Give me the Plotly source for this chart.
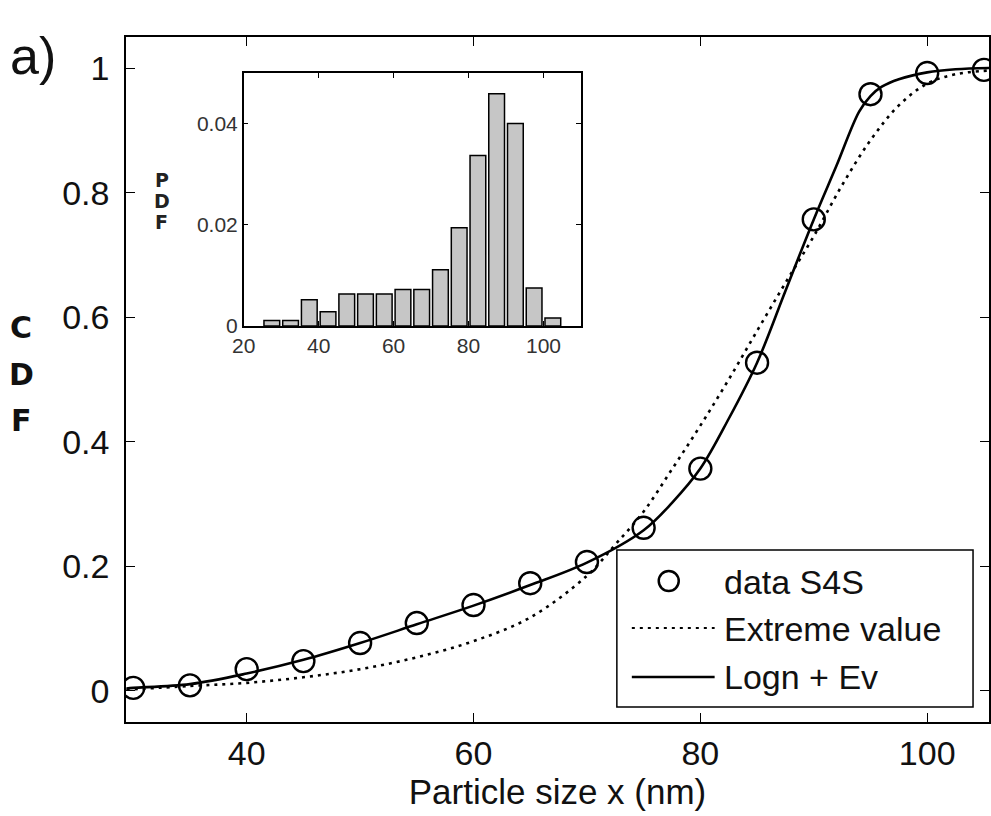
import plotly.graph_objects as go

# ---------------- data ----------------
sizes = [30, 35, 40, 45, 50, 55, 60, 65, 70, 75, 80, 85, 90, 95, 100, 105]
cdf_data = [0.005, 0.009, 0.035, 0.048, 0.077, 0.109, 0.138, 0.173, 0.207,
            0.262, 0.357, 0.527, 0.757, 0.958, 0.992, 0.997]

fit_x = [29.4, 30, 35, 40, 45, 50, 55, 60, 65, 70, 75, 77.5, 80, 82.5, 85,
         87.5, 90, 92, 94, 95, 96, 97.5, 100, 102.5, 105.45]
fit_cdf = [0.004, 0.005, 0.011, 0.028, 0.05, 0.077, 0.107, 0.137, 0.17, 0.206,
           0.258, 0.302, 0.357, 0.437, 0.527, 0.642, 0.757, 0.843, 0.93, 0.955,
           0.97, 0.982, 0.993, 0.998, 1.0]

ev_x = [29.4, 35, 40, 45, 50, 55, 60, 65, 70, 72.5, 75, 77.5, 80, 82.5, 85,
        87.5, 90, 92.5, 95, 97.5, 100, 102.5, 105.45]
ev_cdf = [0.002, 0.008, 0.013, 0.022, 0.035, 0.054, 0.08, 0.118, 0.185, 0.235,
          0.288, 0.356, 0.426, 0.5, 0.578, 0.655, 0.73, 0.812, 0.884, 0.94,
          0.975, 0.99, 0.996]

bin_centers = [27.5, 32.5, 37.5, 42.5, 47.5, 52.5, 57.5, 62.5, 67.5, 72.5,
               77.5, 82.5, 87.5, 92.5, 97.5, 102.5]
pdf_values = [0.0011, 0.0011, 0.0052, 0.0028, 0.0063, 0.0063, 0.0063, 0.0072,
              0.0072, 0.0111, 0.0194, 0.0337, 0.0459, 0.0400, 0.0075, 0.0016]

main_xticks = [40, 60, 80, 100]
main_yticks = [0, 0.2, 0.4, 0.6, 0.8, 1]
main_yticktext = ["0", "0.2", "0.4", "0.6", "0.8", "1"]
inset_xticks = [20, 40, 60, 80, 100]
inset_yticks = [0, 0.02, 0.04]
inset_yticktext = ["0", "0.02", "0.04"]

legend_names = ["data S4S", "Extreme value", "Logn + Ev"]

# ---------------- figure ----------------
W, H = 991, 816
ML, MR, MT, MB = 126, 0, 37, 94
PW, PH = W - ML - MR, H - MT - MB


def px(xp):
    return (xp - ML) / PW


def py(yp):
    return (H - MB - yp) / PH


FONT = "Liberation Sans, Arial, sans-serif"

fig = go.Figure()
fig.add_trace(go.Scatter(x=ev_x, y=ev_cdf, mode="lines", name=legend_names[1],
                         line=dict(color="black", width=2.6, dash="3px,5px",
                                   shape="spline", smoothing=1.0),
                         showlegend=False))
fig.add_trace(go.Scatter(x=fit_x, y=fit_cdf, mode="lines", name=legend_names[2],
                         line=dict(color="black", width=2.6, shape="spline",
                                   smoothing=1.0),
                         showlegend=False))
fig.add_trace(go.Scatter(x=sizes, y=cdf_data, mode="markers", name=legend_names[0],
                         marker=dict(symbol="circle-open", size=22, color="black",
                                     line=dict(color="black", width=2.4)),
                         showlegend=False))
fig.add_trace(go.Bar(x=bin_centers, y=pdf_values, xaxis="x2", yaxis="y2",
                     width=4.2, showlegend=False,
                     marker=dict(color="#c6c6c6",
                                 line=dict(color="black", width=1.5))))

axis_common = dict(showline=True, linecolor="black", linewidth=1.5,
                   mirror="ticks", ticks="inside", tickcolor="black",
                   showgrid=False, zeroline=False)

fig.update_layout(
    width=W, height=H,
    margin=dict(l=ML, r=MR, t=MT, b=MB),
    paper_bgcolor="white", plot_bgcolor="white",
    font=dict(family=FONT, color="black"),
    xaxis=dict(range=[29.36, 105.45], domain=[0, 1], tickvals=main_xticks,
               ticklen=9, tickwidth=1.3,
               tickfont=dict(size=34, family=FONT, color="#111"),
               title=dict(text="Particle size x (nm)", standoff=6,
                          font=dict(size=35, family=FONT, color="#111")),
               **axis_common),
    yaxis=dict(range=[-0.0498, 1.0498], domain=[0, 1], tickvals=main_yticks,
               ticktext=main_yticktext, ticklen=9, tickwidth=1.3,
               ticklabelstandoff=8,
               tickfont=dict(size=34, family=FONT, color="#111"),
               **axis_common),
    xaxis2=dict(range=[20, 110], domain=[px(244), px(582)], anchor="y2",
                tickvals=inset_xticks, ticklen=5, tickwidth=1,
                tickfont=dict(size=21, family=FONT, color="#333"),
                **axis_common),
    yaxis2=dict(range=[0, 0.05], domain=[py(326), py(73)], anchor="x2",
                tickvals=inset_yticks, ticktext=inset_yticktext,
                ticklen=5, tickwidth=1,
                tickfont=dict(size=21, family=FONT, color="#333"),
                **axis_common),
    bargap=0.15,
)

# ---------------- annotations ----------------
ann = []
ann.append(dict(text="a)", x=px(33), y=py(56), xref="paper", yref="paper",
                showarrow=False, xanchor="center", yanchor="middle",
                font=dict(size=52, family="Liberation Sans Narrow, " + FONT, color="#111")))
for letter, yc in zip(["C", "D", "F"], [327, 374, 420]):
    ann.append(dict(text="<b>%s</b>" % letter, x=px(21), y=py(yc), xref="paper",
                    yref="paper", showarrow=False, xanchor="center", yanchor="middle",
                    font=dict(size=30, family="DejaVu Sans", color="#111")))
for letter, yc in zip(["P", "D", "F"], [180, 201, 222]):
    ann.append(dict(text="<b>%s</b>" % letter, x=px(162), y=py(yc), xref="paper",
                    yref="paper", showarrow=False, xanchor="center", yanchor="middle",
                    font=dict(size=19, family="DejaVu Sans", color="#222")))

# manual legend (long line samples as in the original)
shapes = []
shapes.append(dict(type="rect", xref="paper", yref="paper",
                   x0=px(618), x1=px(975), y0=py(707), y1=py(550),
                   line=dict(color="black", width=1.5), fillcolor="white", layer="above"))
shapes.append(dict(type="circle", xref="paper", yref="paper",
                   xsizemode="pixel", ysizemode="pixel",
                   xanchor=px(670), yanchor=py(581),
                   x0=-10, x1=10, y0=-10, y1=10,
                   line=dict(color="black", width=2.5), layer="above"))
shapes.append(dict(type="line", xref="paper", yref="paper",
                   x0=px(633), x1=px(716), y0=py(628), y1=py(628),
                   line=dict(color="black", width=2.2, dash="3px,5px"), layer="above"))
shapes.append(dict(type="line", xref="paper", yref="paper",
                   x0=px(633), x1=px(716), y0=py(677), y1=py(677),
                   line=dict(color="black", width=2.6), layer="above"))
for name, yc in zip(legend_names, [582, 629, 677]):
    ann.append(dict(text=name, x=px(723), y=py(yc), xref="paper", yref="paper",
                    showarrow=False, xanchor="left", yanchor="middle",
                    font=dict(size=34, family=FONT, color="#111")))

fig.update_layout(annotations=ann, shapes=shapes)

fig.write_html("out.html")
